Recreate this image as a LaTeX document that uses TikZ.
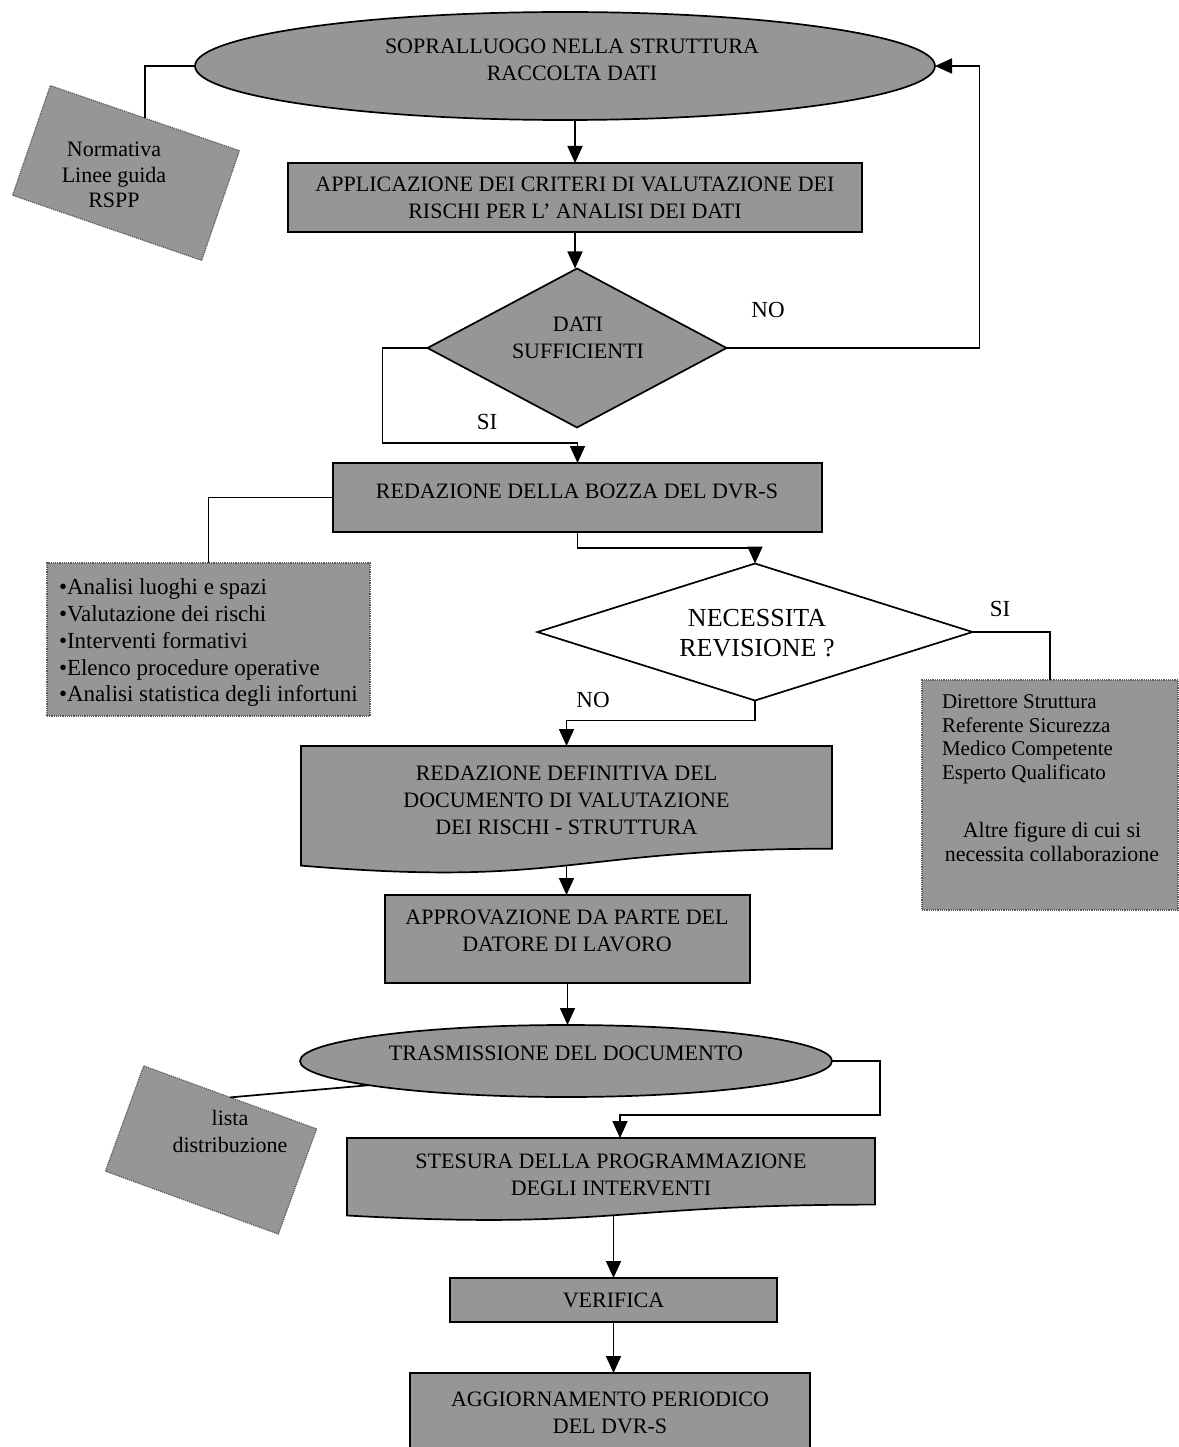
\documentclass[tikz,border=0pt]{standalone}
\usepackage{fontspec}
\setmainfont{Liberation Serif}
\usetikzlibrary{shapes.geometric,arrows.meta,calc}
\definecolor{boxgray}{RGB}{150,150,150}
\begin{document}
\begin{tikzpicture}[x=1pt,y=-1pt,
  every node/.style={inner sep=0pt, outer sep=0pt},
  fnt/.style={font=\fontsize{22}{27}\selectfont},
  procbox/.style={rectangle, draw, line width=1.7pt, fill=boxgray, align=center, fnt},
  termell/.style={ellipse, draw, line width=1.7pt, fill=boxgray},
  decis/.style={diamond, draw, line width=1.7pt, align=center},
  notebox/.style={rectangle, fill=boxgray, draw=black!65, line width=1.2pt, densely dotted},
  docshape/.style={draw, line width=1.7pt, fill=boxgray},
  txt/.style={align=center, fnt},
  conn/.style={line width=1.7pt},
  arr/.style={line width=1.7pt, -{Triangle[length=17pt,width=15pt]}},
  lbl/.style={font=\fontsize{23}{27}\selectfont}
]
\useasboundingbox (0,0) rectangle (1178,1447);
\fill[white] (0,0) rectangle (1178,1447);

% --- top terminator
\node[termell, minimum width=740pt, minimum height=108pt] (sopra) at (565,66) {};
\node[txt] (soprat) at (572,60) {SOPRALLUOGO NELLA STRUTTURA\\RACCOLTA DATI};

% --- Normativa note
\node[notebox, rotate=-19, minimum width=200pt, minimum height=116pt] (norm) at (126,173) {};
\node[txt, font=\fontsize{22}{25.5}\selectfont] (normt) at (114,175) {Normativa\\Linee guida\\RSPP};

% --- application box
\node[procbox, minimum width=574pt, minimum height=69pt] (appl) at (575,197.5)
  {APPLICAZIONE DEI CRITERI DI VALUTAZIONE DEI\\RISCHI PER L' ANALISI DEI DATI};

% --- decision dati sufficienti
\node[decis, fill=boxgray, minimum width=299pt, minimum height=159pt, aspect=1.88] (dati) at (577,348) {};
\node[txt] (datit) at (578,338) {DATI\\SUFFICIENTI};

% --- bozza
\node[procbox, minimum width=489pt, minimum height=69pt] (bozza) at (577.5,497.5) {};
\node[txt] (bozzat) at (577,491) {REDAZIONE DELLA BOZZA DEL DVR-S};

% --- bullets note
\node[notebox, minimum width=323pt, minimum height=153pt] (bull) at (208.5,639.5) {};
\node[font=\fontsize{23}{26.7}\selectfont, align=left, anchor=north west] (bullt) at (59,579)
  {•Analisi luoghi e spazi\\•Valutazione dei rischi\\•Interventi formativi\\•Elenco procedure operative\\•Analisi statistica degli infortuni};

% --- decision necessita revisione
\node[decis, fill=white, minimum width=435pt, minimum height=137pt, aspect=3.17] (neces) at (755,632) {};
\node[align=center, font=\fontsize{26}{30}\selectfont] (necest) at (757,633) {NECESSITA\\REVISIONE ?};

% --- figures note
\node[notebox, minimum width=256pt, minimum height=230pt] (figure) at (1050,795) {};
\node[font=\fontsize{21}{23.5}\selectfont, align=left, anchor=north west] (figt1) at (942,695)
  {Direttore Struttura\\Referente Sicurezza\\Medico Competente\\Esperto Qualificato};
\node[font=\fontsize{22}{24.5}\selectfont, align=center] (figt2) at (1052,842)
  {Altre figure di cui si\\necessita collaborazione};

% --- document: redazione definitiva
\draw[docshape] (301,746) -- (832,746) -- (832,848.7)
  .. controls (566.5,848.7) and (566.5,887.8) .. (301,865.6) -- cycle;
\node[txt, minimum width=531pt, minimum height=108pt] (defin) at (566.5,800)
  {REDAZIONE DEFINITIVA DEL\\DOCUMENTO DI VALUTAZIONE\\DEI RISCHI - STRUTTURA};
\coordinate (definb) at (566.5,865);

% --- approvazione
\node[procbox, minimum width=365pt, minimum height=88pt] (appr) at (567.5,939) {};
\node[txt] (apprt) at (567,931) {APPROVAZIONE DA PARTE DEL\\DATORE DI LAVORO};

% --- trasmissione
\node[termell, minimum width=532pt, minimum height=72pt] (trasm) at (566,1061) {};
\node[txt] (trasmt) at (566,1053) {TRASMISSIONE DEL DOCUMENTO};

% --- lista distribuzione note
\node[notebox, rotate=-20, minimum width=184pt, minimum height=112pt] (lista) at (211,1150) {};
\node[txt] (listat) at (230,1131) {lista\\distribuzione};

% --- document: stesura
\draw[docshape] (347,1138) -- (875,1138) -- (875,1204.6)
  .. controls (611,1204.6) and (611,1229.9) .. (347,1215.5) -- cycle;
\node[txt, minimum width=528pt, minimum height=74pt] (stes) at (611,1175)
  {STESURA DELLA PROGRAMMAZIONE\\DEGLI INTERVENTI};
\coordinate (stesb) at (613.5,1215);

% --- verifica and aggiornamento
\node[procbox, minimum width=327pt, minimum height=44pt] (veri) at (613.5,1300) {VERIFICA};
\node[procbox, minimum width=400pt, minimum height=80pt] (aggi) at (610,1413)
  {AGGIORNAMENTO PERIODICO\\DEL DVR-S};

% --- labels
\node[lbl] (no1) at (768,310) {NO};
\node[lbl] (si1) at (487,422) {SI};
\node[lbl] (si2) at (1000,609) {SI};
\node[lbl] (no2) at (593,700) {NO};

% --- connectors
\draw[conn] (sopra.west) -| (norm.north);
\draw[arr] (appl.north |- sopra.south) -- (appl.north);
\draw[arr] (appl.south) -- (appl.south |- dati.north);
\draw[arr] (dati.east) -- ++(253,0) |- (sopra.east);
\draw[arr] (dati.west) -- ++(-45,0) |- ([yshift=20pt]bozza.north) -- (bozza.north);
\draw[conn] (bozza.west) -| (bull.north);
\draw[arr] (bozza.south) -- ++(0,16) -| (neces.north);
\draw[conn] (neces.east) -| (figure.north);
\draw[arr] (neces.south) -- ++(0,20) -| (defin.north);
\draw[arr] (definb) -- (definb |- appr.north);
\draw[arr] (appr.south) -- (appr.south |- trasm.north);
\draw[conn] (trasm.187) -- (lista.north);
\draw[arr] (trasm.east) -- ++(48,0) -- ++(0,54) -| ([xshift=9pt]stes.north);
\draw[arr] (stesb) -- (stesb |- veri.north);
\draw[arr] (veri.south) -- (veri.south |- aggi.north);
\end{tikzpicture}
\end{document}
